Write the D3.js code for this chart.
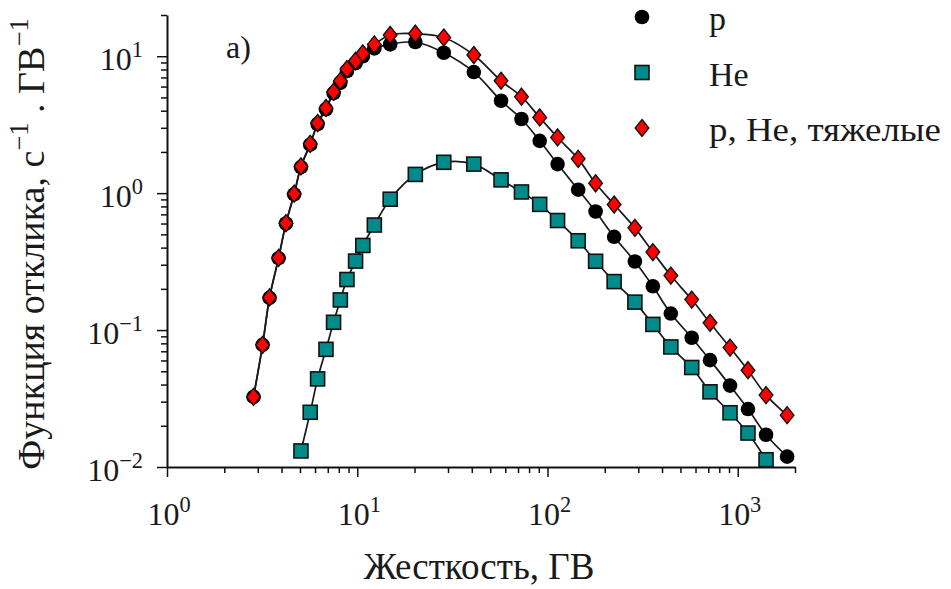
<!DOCTYPE html>
<html>
<head>
<meta charset="utf-8">
<script src="https://cdn.jsdelivr.net/npm/d3@7"></script>
<style>
  body { margin: 0; background: #fff; }
  svg { display: block; }
</style>
</head>
<body>
<svg id="chart" width="951" height="589"></svg>
<script>
// Rigidity grid, GV
const rigidity = [2.85, 3.18, 3.46, 3.86, 4.22, 4.66, 5.06, 5.66, 6.19, 6.85, 7.51, 8.15, 8.83, 9.8, 10.7, 12.3, 14.9, 20.2, 28.5, 41, 57, 73, 91, 113, 145, 179, 224, 288, 358, 445, 573, 715, 911, 1132, 1409, 1818];

// Response function, s^-1 GV^-1 — protons
const protonFlux = [0.0325, 0.078, 0.172, 0.335, 0.60, 0.98, 1.55, 2.26, 3.2, 4.1, 5.38, 6.4, 7.8, 8.9, 10.0, 11.4, 12.2, 12.7, 10.6, 7.66, 4.73, 3.48, 2.41, 1.63, 1.06, 0.734, 0.48, 0.317, 0.209, 0.132, 0.0879, 0.0603, 0.0393, 0.0265, 0.0172, 0.0119];

// Helium
const heliumRigidity = [5.06, 5.66, 6.19, 6.85, 7.51, 8.15, 8.83, 9.8, 10.7, 12.3, 14.9, 20.2, 28.5, 41, 57, 73, 91, 113, 145, 179, 224, 288, 358, 445, 573, 715, 911, 1132, 1409];
const heliumFlux = [0.0131, 0.0251, 0.044, 0.0723, 0.114, 0.166, 0.234, 0.319, 0.415, 0.585, 0.903, 1.37, 1.68, 1.63, 1.25, 1.02, 0.828, 0.631, 0.449, 0.318, 0.226, 0.160, 0.110, 0.0753, 0.0533, 0.0354, 0.0249, 0.0177, 0.0113];

// p + He + heavy nuclei
const totalFlux = [0.0325, 0.078, 0.173, 0.337, 0.604, 0.99, 1.57, 2.29, 3.25, 4.19, 5.5, 6.6, 8.05, 9.25, 10.5, 12.2, 14.3, 14.6, 13.7, 10.2, 6.62, 5.06, 3.57, 2.55, 1.78, 1.18, 0.826, 0.558, 0.371, 0.25, 0.167, 0.113, 0.0745, 0.0509, 0.0335, 0.0239];

// Decade tick labels
const xTickValues = [1, 10, 100, 1000];
const xTickExponents = ["0", "1", "2", "3"];
const yTickValues = [0.01, 0.1, 1, 10];
const yTickExponents = ["\u22122", "\u22121", "0", "1"];

const legendLabels = ["p", "He", "p, He, тяжелые"];
const panelLabel = "a)";
const xTitle = "Жесткость, ГВ";

const FONT = "Liberation Serif";
const INK = "#1a1a1a";
const BASE = 40; // glyphs are set at this size and scaled down by a group transform

const svg = d3.select("#chart");

const x = d3.scaleLog().domain([1, 2000]).range([167, 795]);
const y = d3.scaleLog().domain([0.01, 20]).range([467, 15]);

const isDecade = v => Math.abs(Math.log10(v) - Math.round(Math.log10(v))) < 1e-9;

// Text placed at (tx, ty) with an effective size, optional rotation
const addText = (g, size, tx, ty, rot = 0) => g.append("g")
    .attr("transform", `translate(${tx},${ty}) rotate(${rot}) scale(${size / BASE})`)
  .append("text")
    .style("font-family", FONT)
    .attr("font-size", BASE)
    .attr("fill", INK);

// Axes
const xAxis = svg.append("g")
  .attr("transform", `translate(0,${y(0.01)})`)
  .call(d3.axisBottom(x).tickValues(x.ticks()).tickFormat("").tickSizeOuter(0).tickSizeInner(6));
const yAxis = svg.append("g")
  .attr("transform", `translate(${x(1)},0)`)
  .call(d3.axisLeft(y).tickValues(y.ticks()).tickFormat("").tickSizeOuter(0).tickSizeInner(6));

[xAxis, yAxis].forEach(ax => {
  ax.select(".domain").attr("stroke", "#111").attr("stroke-width", 2);
  ax.selectAll(".tick line").attr("stroke", "#111").attr("stroke-width", 1.5);
});
xAxis.selectAll(".tick line").filter(d => isDecade(d)).attr("y2", 10);
yAxis.selectAll(".tick line").filter(d => isDecade(d)).attr("x2", -10);

// Tick labels with superscript exponents
const labelSize = 32;
const supShift = -0.42 * BASE;
xTickValues.forEach((v, i) => {
  const t = addText(svg, labelSize, x(v) + 2, y(0.01) + 58).attr("text-anchor", "middle");
  t.append("tspan").text("10");
  t.append("tspan").attr("font-size", BASE * 0.7).attr("dy", supShift).text(xTickExponents[i]);
});
yTickValues.forEach((v, i) => {
  const t = addText(svg, labelSize, 143, y(v) + 14).attr("text-anchor", "end");
  t.append("tspan").text("10");
  t.append("tspan").attr("font-size", BASE * 0.7).attr("dy", supShift).text(yTickExponents[i]);
});

// Axis titles
addText(svg, 37, 479, 579)
  .attr("text-anchor", "middle")
  .text(xTitle);

const yTitle = addText(svg, 38, 44, 244, -90).attr("text-anchor", "middle");
yTitle.append("tspan").text("Функция отклика, с");
yTitle.append("tspan").attr("font-size", BASE * 0.7).attr("dy", supShift).text("\u22121");
yTitle.append("tspan").attr("dy", -supShift).text(" . ГВ");
yTitle.append("tspan").attr("font-size", BASE * 0.7).attr("dy", supShift).text("\u22121");

addText(svg, 32, 226, 58).text(panelLabel);

// Curves
const line = d3.line()
  .x(d => x(d[0]))
  .y(d => y(d[1]))
  .curve(d3.curveCatmullRom.alpha(0.5));

const protonPts = rigidity.map((r, i) => [r, protonFlux[i]]);
const heliumPts = heliumRigidity.map((r, i) => [r, heliumFlux[i]]);
const totalPts = rigidity.map((r, i) => [r, totalFlux[i]]);

[protonPts, heliumPts, totalPts].forEach(pts => {
  svg.append("path")
    .attr("d", line(pts))
    .attr("fill", "none")
    .attr("stroke", INK)
    .attr("stroke-width", 1.7);
});

// Markers
const diamondPath = "M0,-8.5L6.8,0L0,8.5L-6.8,0Z";
const drawCircle = (g, cx, cy) => g.append("circle").attr("cx", cx).attr("cy", cy).attr("r", 7.3).attr("fill", "#000");
const drawSquare = (g, cx, cy) => g.append("rect").attr("x", cx - 7).attr("y", cy - 7).attr("width", 14).attr("height", 14)
  .attr("fill", "#008b8b").attr("stroke", "#111").attr("stroke-width", 1.6);
const drawDiamond = (g, cx, cy) => g.append("path").attr("d", diamondPath).attr("transform", `translate(${cx},${cy})`)
  .attr("fill", "#ff0000").attr("stroke", "#111").attr("stroke-width", 1.4);

const marks = svg.append("g");
heliumPts.forEach(d => drawSquare(marks, x(d[0]), y(d[1])));
protonPts.forEach(d => drawCircle(marks, x(d[0]), y(d[1])));
totalPts.forEach(d => drawDiamond(marks, x(d[0]), y(d[1])));

// Legend
const legend = svg.append("g");
const legendDrawers = [drawCircle, drawSquare, drawDiamond];
legendLabels.forEach((lab, i) => {
  const cy = 17 + i * 55.5;
  legendDrawers[i](legend, 642, cy);
  const t = addText(legend, 34, 709, cy + 13).text(lab);
  if (i === legendLabels.length - 1) {
    t.attr("textLength", 232 * BASE / 34).attr("lengthAdjust", "spacingAndGlyphs");
  }
});
</script>
</body>
</html>
